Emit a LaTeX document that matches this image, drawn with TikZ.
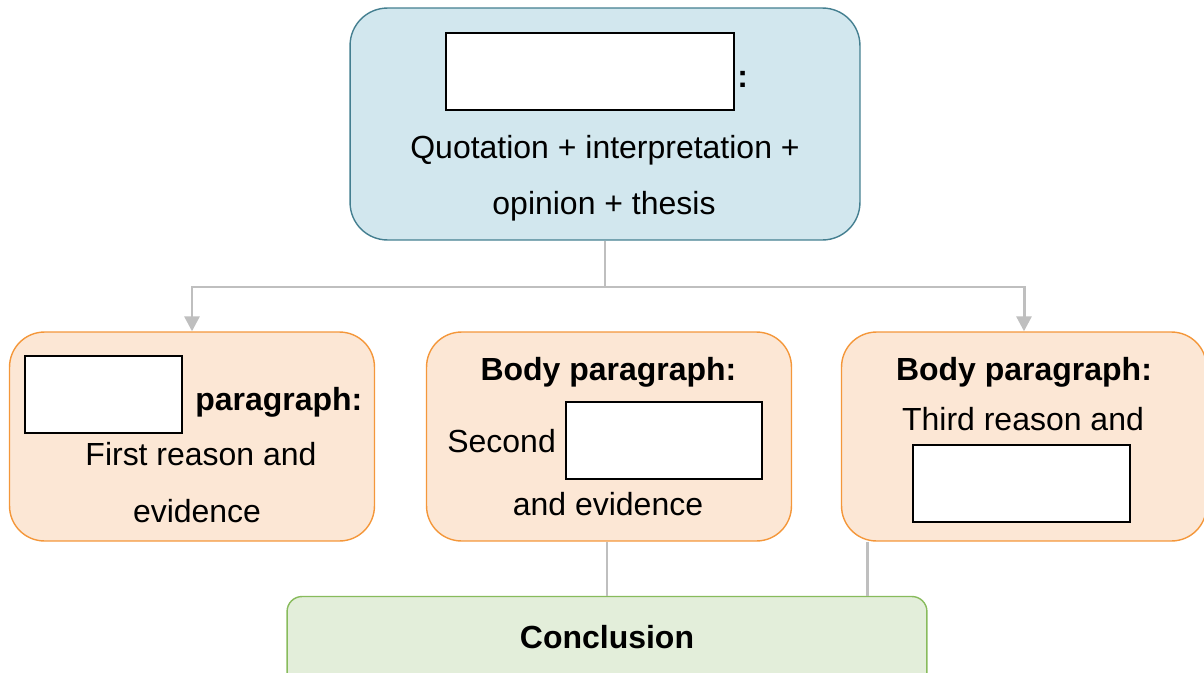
\documentclass[tikz,border=0pt]{standalone}
\usepackage{fontspec}
\setmainfont{Liberation Sans}
\usetikzlibrary{arrows.meta}
\usetikzlibrary{positioning}

\definecolor{introfill}{HTML}{D2E7EE}
\definecolor{introline}{HTML}{447F90}
\definecolor{bodyfill}{HTML}{FCE7D5}
\definecolor{bodyline}{HTML}{F4973A}
\definecolor{endfill}{HTML}{E3EEDA}
\definecolor{endline}{HTML}{88BB5C}
\definecolor{linkgray}{HTML}{BFBFBF}

\begin{document}
\begin{tikzpicture}[x=0.02cm,y=-0.02cm,
    font=\fontsize{18.2}{22}\selectfont]
  \tikzset{introbox/.style={rectangle, rounded corners=0.75cm,
      minimum width=10.2cm, minimum height=4.64cm,
      fill=introfill, draw=introline, line width=0.8pt}}
  \tikzset{bodybox/.style={rectangle, rounded corners=0.7cm,
      minimum width=7.3cm, minimum height=4.18cm,
      fill=bodyfill, draw=bodyline, line width=0.8pt}}
  \tikzset{endbox/.style={rectangle, rounded corners=0.3cm,
      minimum width=12.8cm, minimum height=1.9cm,
      fill=endfill, draw=endline, line width=0.8pt}}
  \tikzset{blank/.style={rectangle, fill=white, draw=black,
      line width=1.3pt, minimum height=1.54cm}}
  \tikzset{txt/.style={inner sep=0pt, anchor=base}}
  \tikzset{link/.style={draw=linkgray, line width=1.7pt}}
  \tikzset{to/.style={link, -{Triangle[length=0.3cm,width=0.3cm]}}}
  \useasboundingbox (0,0) rectangle (1204,673);
  \clip (0,0) rectangle (1204,673);
  % boxes
  \node[introbox] (intro) at (605,124) {};
  \node[bodybox] (first) at (192,436.5) {};
  \node[bodybox] (second) at (609,436.5) {};
  \node[bodybox] (third) at (1024,436.5) {};
  \node[endbox] (final) at (607,644) {};
  % introduction
  \node[blank, minimum width=5.76cm] (introblank) at (590,71.5) {};
  \node[txt, anchor=base west] (colon) at (737,87) {\textbf{:}};
  \node[txt] (introline1) at (605,158) {Quotation + interpretation +};
  \node[txt] (introline2) at (604,214) {opinion + thesis};
  % first body paragraph
  \node[blank, minimum width=3.14cm] (firstblank) at (103.5,394.5) {};
  \node[txt, anchor=base west] (firsthead) at (195,410) {\textbf{paragraph:}};
  \node[txt] (firstline1) at (201,465) {First reason and};
  \node[txt] (firstline2) at (197,522) {evidence};
  % second body paragraph
  \node[txt] (secondhead) at (608.5,380) {\textbf{Body paragraph:}};
  \node[txt, anchor=base west] (secondword) at (447,452) {Second};
  \node[blank, minimum width=3.92cm] (secondblank) at (664,440.5) {};
  \node[txt] (secondline) at (608,515) {and evidence};
  % third body paragraph
  \node[txt] (thirdhead) at (1024,380) {\textbf{Body paragraph:}};
  \node[txt] (thirdline) at (1023,430) {Third reason and};
  \node[blank, minimum width=4.34cm] (thirdblank) at (1021.5,483.5) {};
  % conclusion
  \node[txt] (finalhead) at (607,648) {\textbf{Conclusion}};
  % connectors
  \coordinate (split) at (605,287);
  \coordinate (tap) at (867,0);
  \draw[link] (intro.south) -- (split);
  \draw[to] (split) -| (first.north);
  \draw[to] (split) -| (third.north);
  \draw[link] (second.south -| 607,0) -- (final.north -| 607,0);
  \draw[link] (tap |- third.south) -- (tap |- final.north);
\end{tikzpicture}
\end{document}
